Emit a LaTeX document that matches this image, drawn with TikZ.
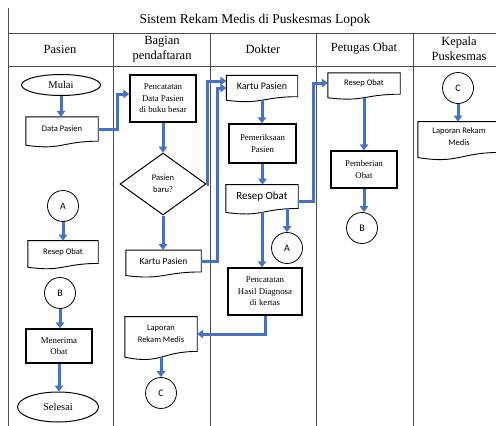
\documentclass[tikz,border=0pt]{standalone}
\usepackage{fontspec}
\setmainfont{Liberation Serif}
\setsansfont{Carlito}
\usetikzlibrary{calc, shapes.geometric, arrows.meta}

\definecolor{flowblue}{RGB}{68,114,196}

% document symbol: the node is the straight part, the wave hangs below it
\newcommand{\docwave}[1]{%
  \draw[line width=0.9pt] (#1.north west) -- (#1.north east) -- (#1.south east)
    .. controls (#1.south) and ($(#1.north)!1.381!(#1.south)$)
    .. ($(#1.north west)!1.1646!(#1.south west)$) -- cycle;
  \coordinate (#1-b) at ($(#1.north)!1.16!(#1.south)$);}

\tikzset{
  lane/.style={draw=black!70, line width=0.8pt},
  flow/.style={draw=flowblue, line width=3pt, -{Triangle[length=6pt,width=8.5pt]}},
  proc/.style={draw, line width=1.5pt, align=center, inner sep=1pt,
    font=\fontsize{8.8}{11.5}\selectfont},
  docu/.style={align=center, inner sep=0pt, font=\sffamily\fontsize{8.5}{12}\selectfont},
  conn/.style={circle, draw, line width=0.8pt, minimum size=31pt, inner sep=0pt,
    font=\sffamily\fontsize{10}{12}\selectfont},
  term/.style={ellipse, draw, line width=1pt, inner sep=0pt,
    font=\fontsize{10.5}{12}\selectfont},
  decide/.style={diamond, draw, line width=1pt, inner sep=0pt, align=center,
    font=\sffamily\fontsize{8.5}{12}\selectfont},
  head/.style={align=center, font=\fontsize{12.5}{15}\selectfont}
}

\begin{document}
\begin{tikzpicture}[x=1pt, y=-1pt]
\useasboundingbox (0,0) rectangle (496,426);

% table
\draw[lane] (8,8) -- (8,426);
\draw[lane] (8,33) -- (510,33);
\draw[lane] (8,66) -- (510,66);
\foreach \lx in {113,210,316,413}
  \draw[lane] (\lx,33) -- (\lx,426);
\node[font=\fontsize{13.5}{16}\selectfont] (title) at (255,20) {Sistem Rekam Medis di Puskesmas Lopok};
\node[head] (hpasien) at (60,49) {Pasien};
\node[head] (hdaftar) at (162,49) {Bagian\\pendaftaran};
\node[head] (hdokter) at (263,49) {Dokter};
\node[head] (hobat) at (364,49) {Petugas Obat};
\node[head] (hkepala) at (459,49) {Kepala\\Puskesmas};

% Pasien
\node[term, minimum width=79pt, minimum height=21pt] (mulai) at (61,85) {Mulai};
\node[docu, minimum width=72pt, minimum height=24pt] (datapasien) at (62,129) {Data Pasien};
\node[conn] (ca) at (63,206) {A};
\node[docu, minimum width=70pt, minimum height=22.5pt] (resep1) at (63,252) {Resep Obat};
\node[conn] (cb) at (60,293) {B};
\node[proc, minimum width=66pt, minimum height=34pt] (terima) at (59,346) {Menerima\\Obat};
\node[term, minimum width=81pt, minimum height=30pt] (selesai) at (58,407) {Selesai};

% Bagian pendaftaran
\node[proc, minimum width=66pt, minimum height=47pt] (catat) at (163,98.5) {Pencatatan\\Data Pasien\\di buku besar};
\node[decide, minimum width=86pt, minimum height=62pt] (baru) at (163,184) {Pasien\\baru?};
\node[docu, minimum width=75pt, minimum height=21.5pt] (kartu1) at (163.5,261) {\fontsize{9.5}{12}\selectfont Kartu Pasien};
\node[docu, minimum width=72pt, minimum height=34.5pt] (laporan1) at (161,334) {Laporan\\Rekam Medis};
\node[conn] (cc1) at (161,393) {C};

% Dokter
\node[docu, minimum width=71pt, minimum height=21pt] (kartu2) at (262,86) {\fontsize{10}{12}\selectfont Kartu Pasien};
\node[proc, minimum width=67pt, minimum height=39pt] (periksa) at (262.5,143.5) {Pemeriksaan\\Pasien};
\node[docu, minimum width=72pt, minimum height=23.5pt] (resep2) at (262,196.5) {\fontsize{11}{12}\selectfont Resep Obat};
\node[conn] (ca2) at (287,248) {A};
\node[proc, minimum width=74pt, minimum height=47pt] (hasil) at (265,291.5) {Pencatatan\\Hasil Diagnosa\\di kertas};

% Petugas Obat
\node[docu, minimum width=72pt, minimum height=21pt] (resep3) at (364,83.5) {Resep Obat};
\node[proc, minimum width=66pt, minimum height=37pt] (beri) at (364,169.5) {Pemberian\\Obat};
\node[conn] (cb2) at (362,228) {B};

% Kepala Puskesmas
\node[conn] (cc2) at (458,88) {C};
\node[docu, minimum width=82pt, minimum height=30.5pt] (laporan2) at (459,137) {Laporan Rekam\\Medis};

\foreach \d in {datapasien,resep1,kartu1,laporan1,kartu2,resep2,resep3,laporan2}
  {\docwave{\d}}

\coordinate (j1) at (117,94);
\coordinate (j2) at (207,81);
\coordinate (j3) at (217,88);
\coordinate (j4) at (313,83);

% connectors
\draw[flow] (mulai.south) -- (mulai.south |- datapasien.north);
\draw[flow] (ca.south) -- (ca.south |- resep1.north);
\draw[flow] (cb.south) -- (cb.south |- terima.north);
\draw[flow] (terima.south) -- (terima.south |- selesai.north);
\draw[flow] (datapasien.east) -| (j1) -- (j1 -| catat.west);
\draw[flow] (catat.south) -- (baru.north);
\draw[flow] (baru.south) -- (baru.south |- kartu1.north);
\draw[flow] (baru.east) -| (j2) -- (j2 -| kartu2.west);
\draw[flow] (kartu1.east) -| (j3) -- (j3 -| kartu2.west);
\draw[flow] (laporan1-b) -- (laporan1-b |- cc1.north);
\draw[flow] (kartu2-b) -- (kartu2-b |- periksa.north);
\draw[flow] (periksa.south) -- (periksa.south |- resep2.north);
\draw[flow] (resep2-b) -- (resep2-b |- hasil.north);
\draw[flow] (resep2.south -| ca2.north) -- (ca2.north);
\draw[flow] ([yshift=-5pt]resep2.east) -| (j4) -- (j4 -| resep3.west);
\draw[flow] (hasil.south) |- (laporan1.east);
\draw[flow] (resep3-b) -- (resep3-b |- beri.north);
\draw[flow] (beri.south) -- (beri.south |- cb2.north);
\draw[flow] (cc2.south) -- (cc2.south |- laporan2.north);
\end{tikzpicture}
\end{document}
